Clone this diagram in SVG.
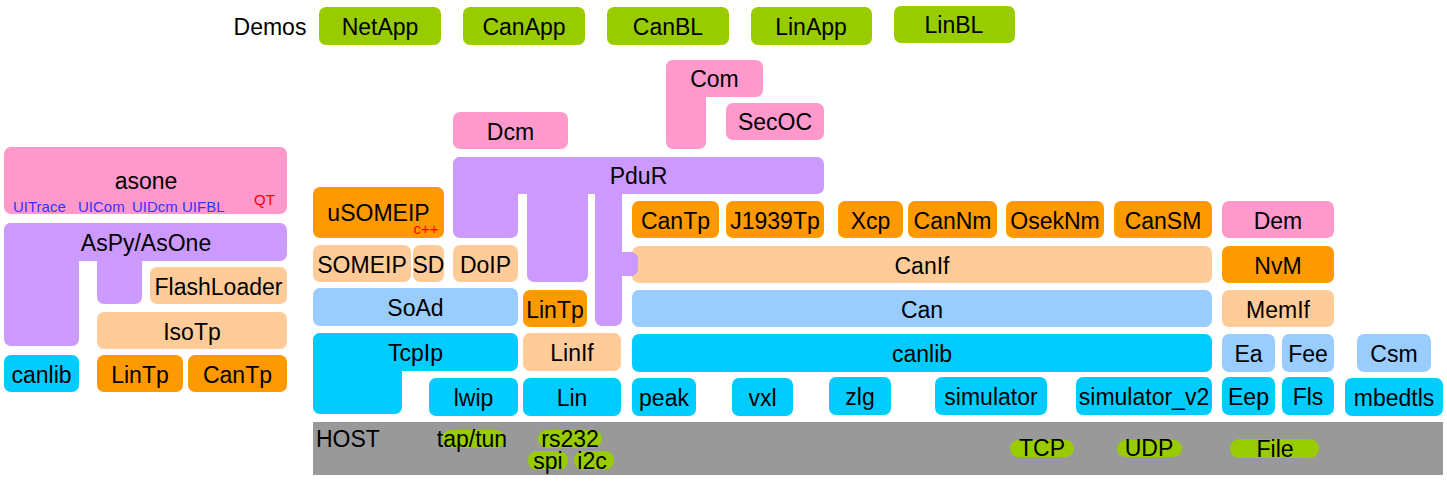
<svg xmlns="http://www.w3.org/2000/svg" width="1447" height="482" viewBox="0 0 1447 482">
<style>
text{font-family:"Liberation Sans",Arial,sans-serif;font-size:23px;fill:#000;text-anchor:middle}
.pk{fill:#ff99cc}.pu{fill:#cc99ff}.lo{fill:#ffcc99}.or{fill:#ff9900}.lb{fill:#99ccff}.cy{fill:#00ccff}.gr{fill:#99cc00}.hs{fill:#999999}
.sm{font-size:15px}.bl{fill:#3333ff}.rd{fill:#ff0000}.st{text-anchor:start}
</style>
<rect width="1447" height="482" fill="#ffffff"/>
<g id="connectors"></g>
<!-- Demos -->
<g id="demos"><text x="270" y="35">Demos</text></g>
<g id="NetApp"><rect class="gr" x="319" y="7" width="122" height="38" rx="7"/><text x="380" y="35">NetApp</text></g>
<g id="CanApp"><rect class="gr" x="463" y="7" width="122" height="38" rx="7"/><text x="524" y="35">CanApp</text></g>
<g id="CanBL"><rect class="gr" x="607" y="7" width="122" height="38" rx="7"/><text x="668" y="35">CanBL</text></g>
<g id="LinApp"><rect class="gr" x="751" y="7" width="121" height="38" rx="7"/><text x="811" y="35">LinApp</text></g>
<g id="LinBL"><rect class="gr" x="894" y="6" width="121" height="37" rx="7"/><text x="954" y="33">LinBL</text></g>
<!-- left column -->
<g id="asone"><rect class="pk" x="4" y="147" width="283" height="67" rx="7"/><text x="146" y="189">asone</text>
<text class="sm bl st" x="13" y="212">UITrace</text><text class="sm bl st" x="78" y="212">UICom</text><text class="sm bl st" x="132" y="212">UIDcm</text><text class="sm bl st" x="182" y="212">UIFBL</text><text class="sm rd st" x="254" y="205">QT</text></g>
<g id="AsPy"><rect class="pu" x="4" y="223" width="283" height="38" rx="7"/><rect class="pu" x="4" y="223" width="75" height="123" rx="7"/><rect class="pu" x="97" y="223" width="45" height="81" rx="7"/><text x="146" y="251">AsPy/AsOne</text></g>
<g id="FlashLoader"><rect class="lo" x="150" y="267" width="137" height="37" rx="7"/><text x="218.5" y="295">FlashLoader</text></g>
<g id="IsoTp"><rect class="lo" x="97" y="312" width="190" height="37" rx="7"/><text x="192" y="340">IsoTp</text></g>
<g id="canlib_left"><rect class="cy" x="4" y="355" width="75" height="37" rx="7"/><text x="41.5" y="383">canlib</text></g>
<g id="LinTp_left"><rect class="or" x="97" y="355" width="86" height="37" rx="7"/><text x="140" y="383">LinTp</text></g>
<g id="CanTp_left"><rect class="or" x="188" y="355" width="99" height="37" rx="7"/><text x="237.5" y="383">CanTp</text></g>
<!-- middle -->
<g id="Dcm"><rect class="pk" x="453" y="112" width="115" height="37" rx="7"/><text x="510.5" y="140">Dcm</text></g>
<g id="Com"><rect class="pk" x="666" y="60" width="97" height="37" rx="7"/><rect class="pk" x="666" y="60" width="40" height="89" rx="7"/><text x="714.5" y="87">Com</text></g>
<g id="SecOC"><rect class="pk" x="726" y="103" width="98" height="37" rx="7"/><text x="775" y="130">SecOC</text></g>
<g id="PduR"><rect class="pu" x="453" y="157" width="371" height="37" rx="7"/><rect class="pu" x="453" y="157" width="65" height="81" rx="7"/><rect class="pu" x="527" y="157" width="61" height="125" rx="7"/><rect class="pu" x="595" y="157" width="27" height="169" rx="7"/><rect class="pu" x="610" y="252" width="28" height="24" rx="7"/><text x="638.5" y="184">PduR</text></g>
<g id="uSOMEIP"><rect class="or" x="313" y="187" width="131" height="51" rx="7"/><text x="378.5" y="221">uSOMEIP</text><text class="sm rd" x="426" y="234">c++</text></g>
<g id="SOMEIP"><rect class="lo" x="313" y="245" width="98" height="37" rx="7"/><text x="362" y="273">SOMEIP</text></g>
<g id="SD"><rect class="lo" x="413" y="245" width="31" height="37" rx="7"/><text x="428.5" y="273">SD</text></g>
<g id="DoIP"><rect class="lo" x="453" y="245" width="65" height="37" rx="7"/><text x="485.5" y="273">DoIP</text></g>
<g id="SoAd"><rect class="lb" x="313" y="288" width="205" height="38" rx="7"/><text x="415.5" y="316">SoAd</text></g>
<g id="LinTp"><rect class="or" x="523" y="290" width="64" height="37" rx="7"/><text x="555" y="318">LinTp</text></g>
<g id="TcpIp"><rect class="cy" x="313" y="333" width="205" height="38" rx="7"/><rect class="cy" x="313" y="333" width="89" height="81" rx="7"/><text x="415.5" y="361">TcpIp</text></g>
<g id="LinIf"><rect class="lo" x="523" y="333" width="98" height="38" rx="7"/><text x="572" y="361">LinIf</text></g>
<g id="lwip"><rect class="cy" x="429" y="378" width="89" height="38" rx="7"/><text x="473.5" y="406">lwip</text></g>
<g id="Lin"><rect class="cy" x="523" y="378" width="98" height="38" rx="7"/><text x="572" y="406">Lin</text></g>
<!-- CAN stack -->
<g id="CanTp"><rect class="or" x="632" y="201" width="87" height="37" rx="7"/><text x="675.5" y="229">CanTp</text></g>
<g id="J1939Tp"><rect class="or" x="726" y="201" width="98" height="37" rx="7"/><text x="775" y="229">J1939Tp</text></g>
<g id="Xcp"><rect class="or" x="838" y="201" width="65" height="37" rx="7"/><text x="870.5" y="229">Xcp</text></g>
<g id="CanNm"><rect class="or" x="908" y="201" width="89" height="37" rx="7"/><text x="952.5" y="229">CanNm</text></g>
<g id="OsekNm"><rect class="or" x="1006" y="201" width="98" height="37" rx="7"/><text x="1055" y="229">OsekNm</text></g>
<g id="CanSM"><rect class="or" x="1114" y="201" width="98" height="37" rx="7"/><text x="1163" y="229">CanSM</text></g>
<g id="CanIf"><rect class="lo" x="632" y="246" width="580" height="37" rx="7"/><rect class="pu" x="620" y="252" width="18" height="24" rx="7"/><text x="922" y="274">CanIf</text></g>
<g id="Can"><rect class="lb" x="632" y="290" width="580" height="37" rx="7"/><text x="922" y="318">Can</text></g>
<g id="canlib"><rect class="cy" x="632" y="334" width="580" height="38" rx="7"/><text x="922" y="362">canlib</text></g>
<g id="peak"><rect class="cy" x="632" y="378" width="64" height="38" rx="7"/><text x="664" y="406">peak</text></g>
<g id="vxl"><rect class="cy" x="732" y="378" width="61" height="38" rx="7"/><text x="762.5" y="406">vxl</text></g>
<g id="zlg"><rect class="cy" x="829" y="377" width="62" height="38" rx="7"/><text x="860" y="405">zlg</text></g>
<g id="simulator"><rect class="cy" x="935" y="377" width="112" height="38" rx="7"/><text x="991" y="405">simulator</text></g>
<g id="simulator_v2"><rect class="cy" x="1076" y="377" width="136" height="38" rx="7"/><text x="1144" y="405">simulator_v2</text></g>
<!-- memory / crypto -->
<g id="Dem"><rect class="pk" x="1222" y="201" width="112" height="37" rx="7"/><text x="1278" y="229">Dem</text></g>
<g id="NvM"><rect class="or" x="1222" y="246" width="112" height="37" rx="7"/><text x="1278" y="274">NvM</text></g>
<g id="MemIf"><rect class="lo" x="1222" y="290" width="112" height="37" rx="7"/><text x="1278" y="318">MemIf</text></g>
<g id="Ea"><rect class="lb" x="1222" y="334" width="53" height="38" rx="7"/><text x="1248.5" y="362">Ea</text></g>
<g id="Fee"><rect class="lb" x="1282" y="334" width="52" height="38" rx="7"/><text x="1308" y="362">Fee</text></g>
<g id="Csm"><rect class="lb" x="1357" y="334" width="74" height="38" rx="7"/><text x="1394" y="362">Csm</text></g>
<g id="Eep"><rect class="cy" x="1222" y="377" width="53" height="38" rx="7"/><text x="1248.5" y="405">Eep</text></g>
<g id="Fls"><rect class="cy" x="1282" y="377" width="52" height="38" rx="7"/><text x="1308" y="405">Fls</text></g>
<g id="mbedtls"><rect class="cy" x="1345" y="378" width="98" height="38" rx="7"/><text x="1394" y="406">mbedtls</text></g>
<!-- host -->
<g id="HOST"><rect class="hs" x="313" y="422" width="1130" height="53"/><text class="st" x="316" y="447">HOST</text>
<rect class="gr" x="442" y="430" width="63" height="18" rx="9"/><text x="472" y="447">tap/tun</text>
<rect class="gr" x="538" y="430" width="64" height="18" rx="9"/><text x="570" y="447">rs232</text>
<rect class="gr" x="528" y="451" width="40" height="19" rx="9"/><text x="548" y="469">spi</text>
<rect class="gr" x="574" y="451" width="40" height="19" rx="9"/><text x="592" y="469">i2c</text>
<rect class="gr" x="1010" y="440" width="64" height="17" rx="8.5"/><text x="1042" y="456">TCP</text>
<rect class="gr" x="1117" y="440" width="65" height="17" rx="8.5"/><text x="1149" y="456">UDP</text>
<rect class="gr" x="1230" y="439" width="89" height="19" rx="9"/><text x="1275" y="457">File</text></g>
</svg>
